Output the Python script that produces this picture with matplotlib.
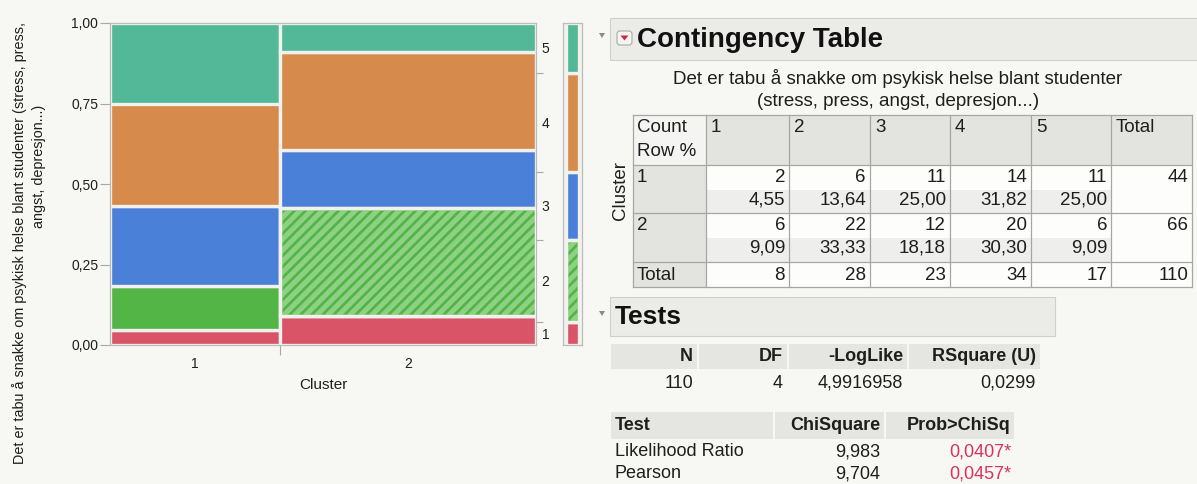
import numpy as np
import matplotlib
matplotlib.use("Agg")
import matplotlib.pyplot as plt
from matplotlib.patches import Rectangle, Polygon, FancyBboxPatch
from matplotlib.collections import LineCollection
from matplotlib.transforms import IdentityTransform

plt.rcParams['font.family'] = ['Liberation Sans', 'DejaVu Sans']

W, H = 1197, 484

# ---- data -------------------------------------------------------------
clusters = ['1', '2']
levels = ['1', '2', '3', '4', '5']
counts_cluster1 = [2, 6, 11, 14, 11]
counts_cluster2 = [6, 22, 12, 20, 6]
level_colors = ['#da5468', '#53b546', '#4a80d8', '#d68b4c', '#52b897']
y_ticks = [0.0, 0.25, 0.50, 0.75, 1.0]
y_tick_labels = ['0,00', '0,25', '0,50', '0,75', '1,00']

stats_header = ['N', 'DF', '-LogLike', 'RSquare (U)']
stats_values = ['110', '4', '4,9916958', '0,0299']
test_names = ['Likelihood Ratio', 'Pearson']
chi_square = [9.983, 9.704]
prob_chisq = [0.0407, 0.0457]

question = 'Det er tabu å snakke om psykisk helse blant studenter'
question_tail = '(stress, press, angst, depresjon...)'

counts = np.array([counts_cluster1, counts_cluster2])
row_tot = counts.sum(axis=1)
col_tot = counts.sum(axis=0)
N = counts.sum()

BG = '#f7f7f3'
GAP = '#f1f1ee'
TXT = '#1e1e1e'
STRIPE = '#8fd184'
FS_AX = 10
FS_TAB = 13.5
FS_TEST = 13


def comma(v, nd):
    return f'{v:.{nd}f}'.replace('.', ',')


fig = plt.figure(figsize=(W / 100, H / 100), dpi=100, facecolor=BG)


def px_axes(x0, y0, x1, y1, **kw):
    return fig.add_axes([x0 / W, 1 - y1 / H, (x1 - x0) / W, (y1 - y0) / H], **kw)


def add_stripes(ax, patch, period=11.0, width_px=5.0):
    bb = patch.get_window_extent()
    h = bb.y1 - bb.y0
    segs = [[(c, bb.y0), (c + h, bb.y1)]
            for c in np.arange(bb.x0 - h, bb.x1 + period, period)]
    lc = LineCollection(segs, colors=STRIPE, linewidths=width_px * 0.72,
                        transform=IdentityTransform(), zorder=2.5)
    ax.add_collection(lc, autolim=False)
    lc.set_clip_path(patch)
    # redraw the cell outline above the stripes
    x, y = patch.get_xy()
    ax.add_patch(Rectangle((x, y), patch.get_width(), patch.get_height(),
                           facecolor='none', edgecolor=GAP,
                           linewidth=patch.get_linewidth(), zorder=2.6))


# ---- mosaic plot --------------------------------------------------------
ax = px_axes(110, 23, 536, 345)
ax.set_facecolor(GAP)
ax.set_xlim(0, 1)
ax.set_ylim(0, 1)

widths = row_tot / N
lefts = np.concatenate([[0], np.cumsum(widths)[:-1]])
for i in range(len(clusters)):
    shares = counts[i] / row_tot[i]
    bottoms = np.cumsum(shares) - shares
    bars = ax.bar(np.full(len(levels), lefts[i]), shares, width=widths[i],
                  bottom=bottoms, align='edge', color=level_colors,
                  edgecolor=GAP, linewidth=2.4, zorder=2)
    if i == 1:
        add_stripes(ax, bars[levels.index('2')])

for s in ax.spines.values():
    s.set_color('#bcbcbc')
    s.set_linewidth(0.9)

ax.set_yticks(y_ticks)
ax.set_yticklabels(y_tick_labels)
ax.tick_params(axis='y', length=7, width=0.8, color='#a8a8a8',
               labelsize=FS_AX, pad=1.5, labelcolor=TXT)
ax.set_xticks([lefts[1]])
ax.set_xticklabels([''])
ax.set_xticks(lefts + widths / 2, minor=True)
ax.set_xticklabels(clusters, minor=True)
ax.tick_params(axis='x', which='major', length=7, width=0.8, color='#a8a8a8')
ax.tick_params(axis='x', which='minor', length=0, pad=8.5, labelsize=FS_AX,
               labelcolor=TXT)
ax.set_xlabel('Cluster', fontsize=11, color=TXT, labelpad=5.5)

# level labels on the right side at the marginal proportions
ax2 = ax.twinx()
ax2.set_ylim(0, 1)
cum = np.cumsum(col_tot) / N
ax2.set_yticks(cum[:-1])
ax2.set_yticklabels([])
ax2.set_yticks(cum - col_tot / N / 2, minor=True)
ax2.set_yticklabels(levels, minor=True)
ax2.tick_params(axis='y', which='major', length=5, width=0.8, color='#a8a8a8')
ax2.tick_params(axis='y', which='minor', length=0, pad=4, labelsize=FS_AX,
                labelcolor=TXT)
for s in ax2.spines.values():
    s.set_visible(False)

fig.text(20 / W, 1 - 243 / H,
         'Det er tabu å snakke om psykisk helse blant studenter (stress, press,',
         rotation=90, ha='center', va='center', fontsize=10.4, color=TXT)
fig.text(39 / W, 1 - 166 / H, 'angst, depresjon...)',
         rotation=90, ha='center', va='center', fontsize=10.4, color=TXT)

# marginal bar
mx = px_axes(563, 23, 582, 345)
mx.set_facecolor(GAP)
mx.set_xlim(0, 1)
mx.set_ylim(0, 1)
mshares = col_tot / N
mbars = mx.bar(np.full(len(levels), 0.15), mshares, width=0.7,
               bottom=np.cumsum(mshares) - mshares, align='edge',
               color=level_colors, edgecolor=GAP, linewidth=2.4, zorder=2)
add_stripes(mx, mbars[levels.index('2')])
mx.set_xticks([])
mx.set_yticks([])
for s in mx.spines.values():
    s.set_color('#bcbcbc')
    s.set_linewidth(0.9)

# ---- report panel -------------------------------------------------------
p = fig.add_axes([0, 0, 1, 1], zorder=5)
p.set_xlim(0, W)
p.set_ylim(H, 0)
p.axis('off')
p.patch.set_visible(False)


def box(x0, y0, x1, y1, fc, ec='none', lw=0.8, z=1):
    p.add_patch(Rectangle((x0, y0), x1 - x0, y1 - y0, facecolor=fc,
                          edgecolor=ec, linewidth=lw, zorder=z))


def txt(x, y, s, ha='left', size=FS_TAB, weight='normal', color=TXT, **kw):
    p.text(x, y, s, ha=ha, va='center', fontsize=size, fontweight=weight,
           color=color, **kw)


def disclosure(x, y):
    p.add_patch(Polygon([(x - 3, y - 2), (x + 3, y - 2), (x, y + 3)],
                        closed=True, facecolor='#8a8a8a', edgecolor='none'))


# Contingency Table header
disclosure(602, 35)
box(610, 18, 1200, 60, '#ebebe8', '#cfcfcb')
p.add_patch(FancyBboxPatch((617, 31), 15, 14, boxstyle='round,pad=0,rounding_size=3',
                           facecolor='#f4f4f2', edgecolor='#a9a9a6', linewidth=0.8,
                           zorder=2))
p.add_patch(Polygon([(620.5, 35.5), (628.5, 35.5), (624.5, 40.5)], closed=True,
                    facecolor='#d2283c', edgecolor='none', zorder=3))
txt(637, 40, 'Contingency Table', size=20, weight='bold', color='#111111')

txt(898, 78, question, ha='center')
txt(898, 102, question_tail, ha='center')

col_edges = [633, 706, 789, 870, 950, 1031, 1111, 1192]
row_edges = [115, 165, 213, 262, 287]
HEAD = '#e3e3e0'
BAND = '#eeeeec'

# cell fills
box(col_edges[0], row_edges[0], col_edges[-1], row_edges[1], HEAD)
box(col_edges[0], row_edges[0], col_edges[1], row_edges[-1], HEAD)
box(col_edges[0], row_edges[0], col_edges[1], row_edges[1], '#f4f4f2')
box(col_edges[1], row_edges[1], col_edges[-1], row_edges[-1], '#fdfdfc')
for r in range(2):
    box(col_edges[1], row_edges[r + 1] + 25, col_edges[-2], row_edges[r + 2], BAND)
# grid
for x in col_edges:
    p.plot([x, x], [row_edges[0], row_edges[-1]], color='#a6a6a3', lw=0.9, zorder=3)
for y in row_edges:
    p.plot([col_edges[0], col_edges[-1]], [y, y], color='#a6a6a3', lw=0.9, zorder=3)

txt(637, 128, 'Count')
txt(637, 152, 'Row %')
for j, lab in enumerate(levels + ['Total']):
    txt(col_edges[j + 1] + 5, 128, lab)

for i, c in enumerate(clusters):
    y_top = row_edges[i + 1] + 12
    y_pct = row_edges[i + 1] + 35
    txt(637, y_top, c)
    for j in range(len(levels)):
        xr = col_edges[j + 2] - 4
        txt(xr, y_top, str(counts[i, j]), ha='right')
        txt(xr, y_pct, comma(100 * counts[i, j] / row_tot[i], 2), ha='right')
    txt(col_edges[-1] - 4, y_top, str(row_tot[i]), ha='right')

txt(637, 275, 'Total')
for j in range(len(levels)):
    txt(col_edges[j + 2] - 4, 275, str(col_tot[j]), ha='right')
txt(col_edges[-1] - 4, 275, str(N), ha='right')

txt(620, 190, 'Cluster', ha='center', rotation=90)

# Tests header
disclosure(602, 313)
box(610, 297, 1055, 336, '#ebebe8', '#cfcfcb')
txt(615, 317, 'Tests', size=19, weight='bold', color='#111111')

stat_cols = [(611, 697), (699, 787), (789, 907), (909, 1040)]
for (a, b), head, val in zip(stat_cols, stats_header, stats_values):
    box(a, 344, b, 369, '#e5e5e2')
    txt(b - 4, 356.5, head, ha='right', size=FS_TEST, weight='bold')
    txt(b - 4, 383, val, ha='right', size=FS_TEST)

test_cols = [(611, 773), (775, 884), (886, 1014)]
for (a, b) in test_cols:
    box(a, 412, b, 439, '#e5e5e2')
txt(615, 425.5, 'Test', size=FS_TEST, weight='bold')
txt(880, 425.5, 'ChiSquare', ha='right', size=FS_TEST, weight='bold')
txt(1011, 425.5, 'Prob>ChiSq', ha='right', size=FS_TEST, weight='bold')
for k, name in enumerate(test_names):
    y = 452 + 22 * k
    txt(615, y, name, size=FS_TEST)
    txt(880, y, comma(chi_square[k], 3), ha='right', size=FS_TEST)
    txt(1011, y, comma(prob_chisq[k], 4) + '*', ha='right', size=FS_TEST,
        color='#d8335f')

fig.savefig('out.png', dpi=100, facecolor=BG)
